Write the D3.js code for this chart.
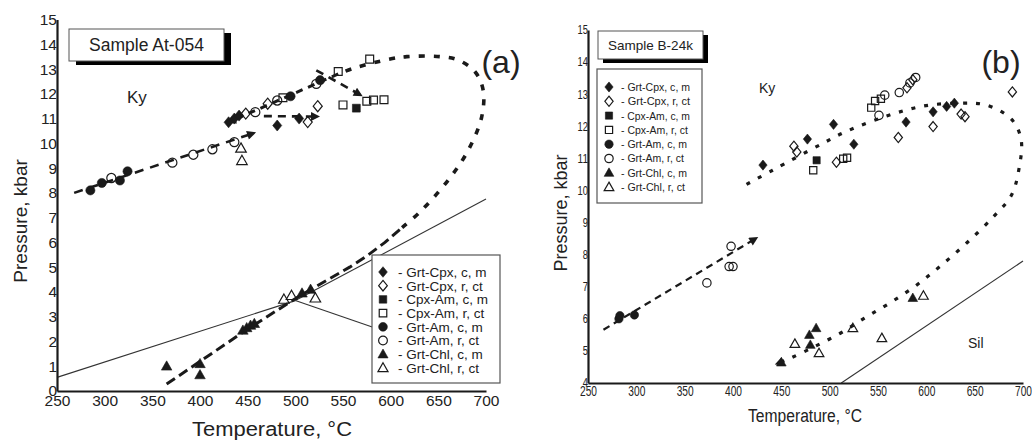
<!DOCTYPE html>
<html>
<head>
<meta charset="utf-8">
<script src="https://cdn.jsdelivr.net/npm/d3@7"></script>
<style>
  html, body { margin: 0; padding: 0; background: #fff; }
  svg { display: block; font-family: "Liberation Sans", Arial, Helvetica, sans-serif; }
</style>
</head>
<body>
<svg id="chart" width="1032" height="440"></svg>
<script>
// ---------- axis values ----------
const tempTicks = [250, 300, 350, 400, 450, 500, 550, 600, 650, 700];
const pressTicksA = [0, 1, 2, 3, 4, 5, 6, 7, 8, 9, 10, 11, 12, 13, 14, 15];
const pressTicksB = [4, 5, 6, 7, 8, 9, 10, 11, 12, 13, 14, 15];

// ---------- legend ----------
const seriesKeys = ["grtCpxC", "grtCpxR", "cpxAmC", "cpxAmR", "grtAmC", "grtAmR", "grtChlC", "grtChlR"];
const legendLabels = ["- Grt-Cpx, c, m", "- Grt-Cpx, r, ct", "- Cpx-Am, c, m", "- Cpx-Am, r, ct",
                      "- Grt-Am, c, m", "- Grt-Am, r, ct", "- Grt-Chl, c, m", "- Grt-Chl, r, ct"];

// ---------- Sample At-054: thermobarometry estimates [T °C, P kbar] ----------
const aGrtCpxC = [[430, 10.85], [436, 11.0], [441, 11.12], [481, 10.72], [504, 11.0]];
const aGrtCpxR = [[448, 11.2], [471, 11.6], [513, 10.86], [523.5, 11.5]];
const aCpxAmC  = [[564, 11.42]];
const aCpxAmR  = [[487, 11.84], [545, 12.9], [578, 13.4], [550, 11.55], [575, 11.7], [582, 11.75], [593, 11.76]];
const aGrtAmC  = [[285, 8.1], [297, 8.4], [316, 8.5], [324, 8.87], [495, 11.9], [526, 12.55]];
const aGrtAmR  = [[307, 8.6], [371, 9.22], [393, 9.54], [413, 9.76], [436, 10.05], [458, 11.26], [481, 11.73], [522, 12.4]];
const aGrtChlC = [[365, 1.0], [400, 1.1], [400, 0.65], [445, 2.45], [449, 2.55], [453, 2.65], [457, 2.72], [507, 3.95], [516, 4.1]];
const aGrtChlR = [[443, 9.8], [444, 9.3], [488, 3.7], [496, 3.85], [521, 3.75]];

// P-T path segments, Sample At-054
const aPathEarly  = [[268, 8.0], [457, 10.42]];
const aPathProgr  = [[365, 0.28], [450, 2.5], [505, 3.85], [557, 5.0], [576, 5.48], [594, 6.0], [612, 6.6]];
const aPathPeak   = [[612, 6.6], [631, 7.24], [660.5, 8.52], [681.5, 9.73], [695.5, 11.07], [697, 12.15],
                     [688.5, 12.89], [671, 13.36], [652, 13.5], [617, 13.5], [597.5, 13.39], [561, 13.03], [545, 12.8]];
const aPathRetro  = [[545, 12.8], [430, 10.85]];
const aPathFlat   = [[467, 11.1], [524, 11.08]];
const aPathDecomp = [[522, 12.95], [569, 11.94]];

// Al2SiO5 reactions, Sample At-054
const aAndKy  = [[250, 0.55], [500, 3.65]];
const aKySil  = [[500, 3.65], [700, 7.75]];
const aAndSil = [[500, 3.65], [640, 1.8]];

// ---------- Sample B-24k ----------
const bGrtCpxC = [[431, 10.79], [477, 11.6], [504, 12.06], [525, 11.44], [579, 12.13], [607, 12.45], [621, 12.62], [629, 12.72]];
const bGrtCpxR = [[463, 11.38], [466, 11.2], [507, 10.88], [571, 11.65], [607, 11.99], [636, 12.38], [640, 12.3], [689, 13.07], [580, 13.2], [586, 13.45]];
const bCpxAmC  = [[486.5, 10.94]];
const bCpxAmR  = [[483, 10.63], [514, 10.99], [518, 11.02], [543, 12.58], [547, 12.79], [553, 12.86]];
const bGrtAmC  = [[282, 6.0], [283, 6.1], [298, 6.12]];
const bGrtAmR  = [[373, 7.12], [396, 7.63], [400, 7.63], [398, 8.26], [551, 12.34], [557, 12.97], [572, 13.05], [583, 13.35], [589, 13.52]];
const bGrtChlC = [[450, 4.64], [479, 5.5], [486, 5.71], [480, 5.19], [586, 6.65]];
const bGrtChlR = [[464, 5.22], [489, 4.93], [524, 5.71], [554, 5.4], [597, 6.72]];

const bPathEarly = [[266, 5.66], [424.5, 8.52]];
const bPathLoop  = [[414, 10.19], [441, 10.63], [493, 11.47], [518, 11.85], [559, 12.32], [597, 12.63], [635, 12.72],
                    [662, 12.66], [688, 12.22], [698, 11.6], [696, 10.7], [688, 9.85], [670, 9.2], [642, 8.37],
                    [614, 7.63], [589, 7.03], [562, 6.49], [536, 6.02], [511, 5.55], [484, 5.13], [459, 4.77], [445, 4.6]];
const bKySil = [[512, 4.0], [700, 7.8]];

// ---------- drawing ----------
const svg = d3.select("#chart");
const INK = "#1a1a1a";

const defs = svg.append("defs");
defs.append("marker")
  .attr("id", "arrowHead")
  .attr("viewBox", "0 0 10 10")
  .attr("refX", 8).attr("refY", 5)
  .attr("markerWidth", 12).attr("markerHeight", 9)
  .attr("markerUnits", "userSpaceOnUse")
  .attr("orient", "auto")
  .append("path").attr("d", "M0,0 L10,5 L0,10 Z").attr("fill", INK);

// custom symbol shapes; size argument = half-extent in px
const shapes = {
  diamond:  { draw(c, r) { c.moveTo(0, -r); c.lineTo(r * 0.82, 0); c.lineTo(0, r); c.lineTo(-r * 0.82, 0); c.closePath(); } },
  square:   { draw(c, r) { const s = r * 0.82; c.rect(-s, -s, 2 * s, 2 * s); } },
  circle:   { draw(c, r) { c.moveTo(r, 0); c.arc(0, 0, r, 0, 2 * Math.PI); c.closePath(); } },
  triangle: { draw(c, r) { c.moveTo(0, -r); c.lineTo(r * 0.98, r * 0.72); c.lineTo(-r * 0.98, r * 0.72); c.closePath(); } }
};
const seriesStyle = {
  grtCpxC: { shape: "diamond", filled: true },  grtCpxR: { shape: "diamond", filled: false },
  cpxAmC:  { shape: "square", filled: true },   cpxAmR:  { shape: "square", filled: false },
  grtAmC:  { shape: "circle", filled: true },   grtAmR:  { shape: "circle", filled: false },
  grtChlC: { shape: "triangle", filled: true }, grtChlR: { shape: "triangle", filled: false }
};
const shapeScale = { diamond: 1.15, square: 1.0, circle: 0.95, triangle: 1.12 };

function symbolPath(key, r) {
  const st = seriesStyle[key];
  return d3.symbol().type(shapes[st.shape]).size(r * shapeScale[st.shape])();
}
function styleSymbol(sel, key) {
  const st = seriesStyle[key];
  sel.attr("fill", st.filled ? INK : "none")
     .attr("stroke", INK)
     .attr("stroke-width", st.filled ? 0.6 : 1.2);
}
function fitWidth(sel, w) {
  sel.attr("textLength", w).attr("lengthAdjust", "spacingAndGlyphs");
}

function drawPanel(cfg) {
  const g = svg.append("g");
  const x = d3.scaleLinear().domain([250, 700]).range(cfg.xRange);
  const y = d3.scaleLinear().domain(cfg.yDomain).range(cfg.yRange);
  const line = d3.line().x(d => x(d[0])).y(d => y(d[1]));
  const smooth = d3.line().x(d => x(d[0])).y(d => y(d[1])).curve(d3.curveCatmullRom.alpha(0.5));

  // reaction lines
  cfg.reactions.forEach(r => {
    g.append("path").attr("d", line(r)).attr("fill", "none")
      .attr("stroke", "#333").attr("stroke-width", 1.1);
  });

  // P-T path
  cfg.paths.forEach(p => {
    g.append("path").attr("d", (p.smooth ? smooth : line)(p.data))
      .attr("fill", "none").attr("stroke", INK)
      .attr("stroke-width", p.width).attr("stroke-dasharray", p.dash)
      .attr("marker-end", p.arrow ? "url(#arrowHead)" : null);
  });

  // data markers
  seriesKeys.forEach((key, i) => {
    const data = cfg.series[i];
    g.append("g").selectAll("path").data(data).join("path")
      .attr("transform", d => `translate(${x(d[0])},${y(d[1])})`)
      .attr("d", symbolPath(key, cfg.markerR))
      .call(styleSymbol, key);
  });

  // axes
  const xAxis = g.append("g").attr("transform", `translate(0,${cfg.yRange[0]})`)
    .call(d3.axisBottom(x).tickValues(tempTicks).tickSize(0).tickPadding(cfg.xPad).tickFormat(d3.format("d")));
  const yAxis = g.append("g").attr("transform", `translate(${cfg.xRange[0]},0)`)
    .call(d3.axisLeft(y).tickValues(cfg.yTicks).tickSize(0).tickPadding(0).tickFormat(d3.format("d")));
  [xAxis, yAxis].forEach(ax => {
    ax.select(".domain").attr("stroke", INK).attr("stroke-width", 2.2);
    ax.selectAll("text").attr("fill", "#222").attr("font-family", "Liberation Sans, Arial, sans-serif");
  });
  xAxis.selectAll("text").attr("font-size", cfg.xTickFont);
  yAxis.selectAll("text").attr("font-size", cfg.yTickFont);
  if (cfg.xTickWidth) xAxis.selectAll("text").call(fitWidth, cfg.xTickWidth);
  if (cfg.yTickWidth) yAxis.selectAll("text").each(function (d) {
    d3.select(this).call(fitWidth, cfg.yTickWidth * String(d).length);
  });

  // axis titles
  const xt = g.append("text").attr("x", cfg.xTitle[0]).attr("y", cfg.xTitle[1])
    .attr("text-anchor", "middle").attr("font-size", cfg.xTitle[2]).attr("fill", "#222")
    .text("Temperature, °C");
  if (cfg.xTitle[3]) xt.call(fitWidth, cfg.xTitle[3]);
  g.append("text").attr("transform", `translate(${cfg.yTitle[0]},${cfg.yTitle[1]}) rotate(-90)`)
    .attr("text-anchor", "middle").attr("font-size", cfg.yTitle[2]).attr("fill", "#222")
    .text("Pressure, kbar");

  // sample name box with drop shadow
  const b = cfg.sampleBox;
  g.append("rect").attr("x", b.x + b.sx).attr("y", b.y + b.sy).attr("width", b.w).attr("height", b.h).attr("fill", "#000");
  g.append("rect").attr("x", b.x).attr("y", b.y).attr("width", b.w).attr("height", b.h)
    .attr("fill", "#fff").attr("stroke", "#555").attr("stroke-width", 1);
  g.append("text").attr("x", b.x + b.w / 2).attr("y", b.y + b.base).attr("text-anchor", "middle")
    .attr("font-size", b.font).attr("fill", "#222").text(cfg.sampleName);

  // panel letter and field labels
  g.append("text").attr("x", cfg.letter[0]).attr("y", cfg.letter[1]).attr("text-anchor", "middle")
    .attr("font-size", 32).attr("fill", "#222").text(cfg.letter[2]);
  cfg.fieldLabels.forEach(f => {
    g.append("text").attr("x", f[0]).attr("y", f[1]).attr("font-size", f[2]).attr("fill", "#222").text(f[3]);
  });

  // legend
  const L = cfg.legend;
  const lg = g.append("g");
  lg.append("rect").attr("x", L.x).attr("y", L.y).attr("width", L.w).attr("height", L.h)
    .attr("fill", "#fff").attr("stroke", "#555").attr("stroke-width", 1.2);
  seriesKeys.forEach((key, i) => {
    const ry = L.row0 + i * L.step;
    lg.append("path").attr("transform", `translate(${L.symX},${ry})`)
      .attr("d", symbolPath(key, L.r)).call(styleSymbol, key);
    const t = lg.append("text").attr("x", L.textX).attr("y", ry + L.font * 0.36)
      .attr("font-size", L.font).attr("fill", "#222").text(legendLabels[i]);
    if (L.textW) t.call(fitWidth, L.textW[i]);
  });
}

// Panel (a): Sample At-054
drawPanel({
  xRange: [57, 486], yDomain: [0, 15], yRange: [391, 19.5], yTicks: pressTicksA,
  xPad: 4, xTickFont: 15.5, yTickFont: 15.5,
  xTitle: [272, 436, 20, 160], yTitle: [27, 221, 19],
  markerR: 4.8,
  series: [aGrtCpxC, aGrtCpxR, aCpxAmC, aCpxAmR, aGrtAmC, aGrtAmR, aGrtChlC, aGrtChlR],
  reactions: [aAndKy, aKySil, aAndSil],
  paths: [
    { data: aPathEarly, width: 2.6, dash: "9,7", arrow: true },
    { data: aPathProgr, width: 3, dash: "10,5" },
    { data: aPathPeak, width: 3.6, dash: "6,9", smooth: true },
    { data: aPathRetro, width: 3, dash: "7,6", arrow: true },
    { data: aPathFlat, width: 2.6, dash: "8,6", arrow: true },
    { data: aPathDecomp, width: 2.6, dash: "8,6", arrow: true }
  ],
  sampleName: "Sample At-054",
  sampleBox: { x: 69, y: 29, w: 155, h: 32, sx: 7, sy: 4, base: 22, font: 17.5 },
  letter: [501, 73, "(a)"],
  fieldLabels: [[127, 103, 17, "Ky"]],
  legend: { x: 372, y: 255, w: 128, h: 128, row0: 272, step: 13.7, symX: 383, textX: 398, r: 4.6, font: 13.5 }
});

// Panel (b): Sample B-24k
drawPanel({
  xRange: [588, 1023], yDomain: [4, 15], yRange: [383, 30], yTicks: pressTicksB,
  xPad: 2, xTickFont: 15, yTickFont: 12, xTickWidth: 17, yTickWidth: 5.2,
  xTitle: [805, 422, 18, 114], yTitle: [567, 213, 18],
  markerR: 4.4,
  series: [bGrtCpxC, bGrtCpxR, bCpxAmC, bCpxAmR, bGrtAmC, bGrtAmR, bGrtChlC, bGrtChlR],
  reactions: [bKySil],
  paths: [
    { data: bPathEarly, width: 2.2, dash: "7,5", arrow: true },
    { data: bPathLoop, width: 3.2, dash: "4,9", smooth: true, arrow: true }
  ],
  sampleName: "Sample B-24k",
  sampleBox: { x: 598, y: 31, w: 105, h: 28, sx: 5, sy: 4, base: 19, font: 13.5 },
  letter: [1001, 73, "(b)"],
  fieldLabels: [[759, 93, 14, "Ky"], [968, 348, 14, "Sil"]],
  legend: { x: 597, y: 69, w: 105, h: 134, row0: 87, step: 14.3, symX: 609, textX: 621, r: 4.4, font: 11,
            textW: [69, 69, 69, 67, 66, 63, 66, 64] }
});
</script>
</body>
</html>
